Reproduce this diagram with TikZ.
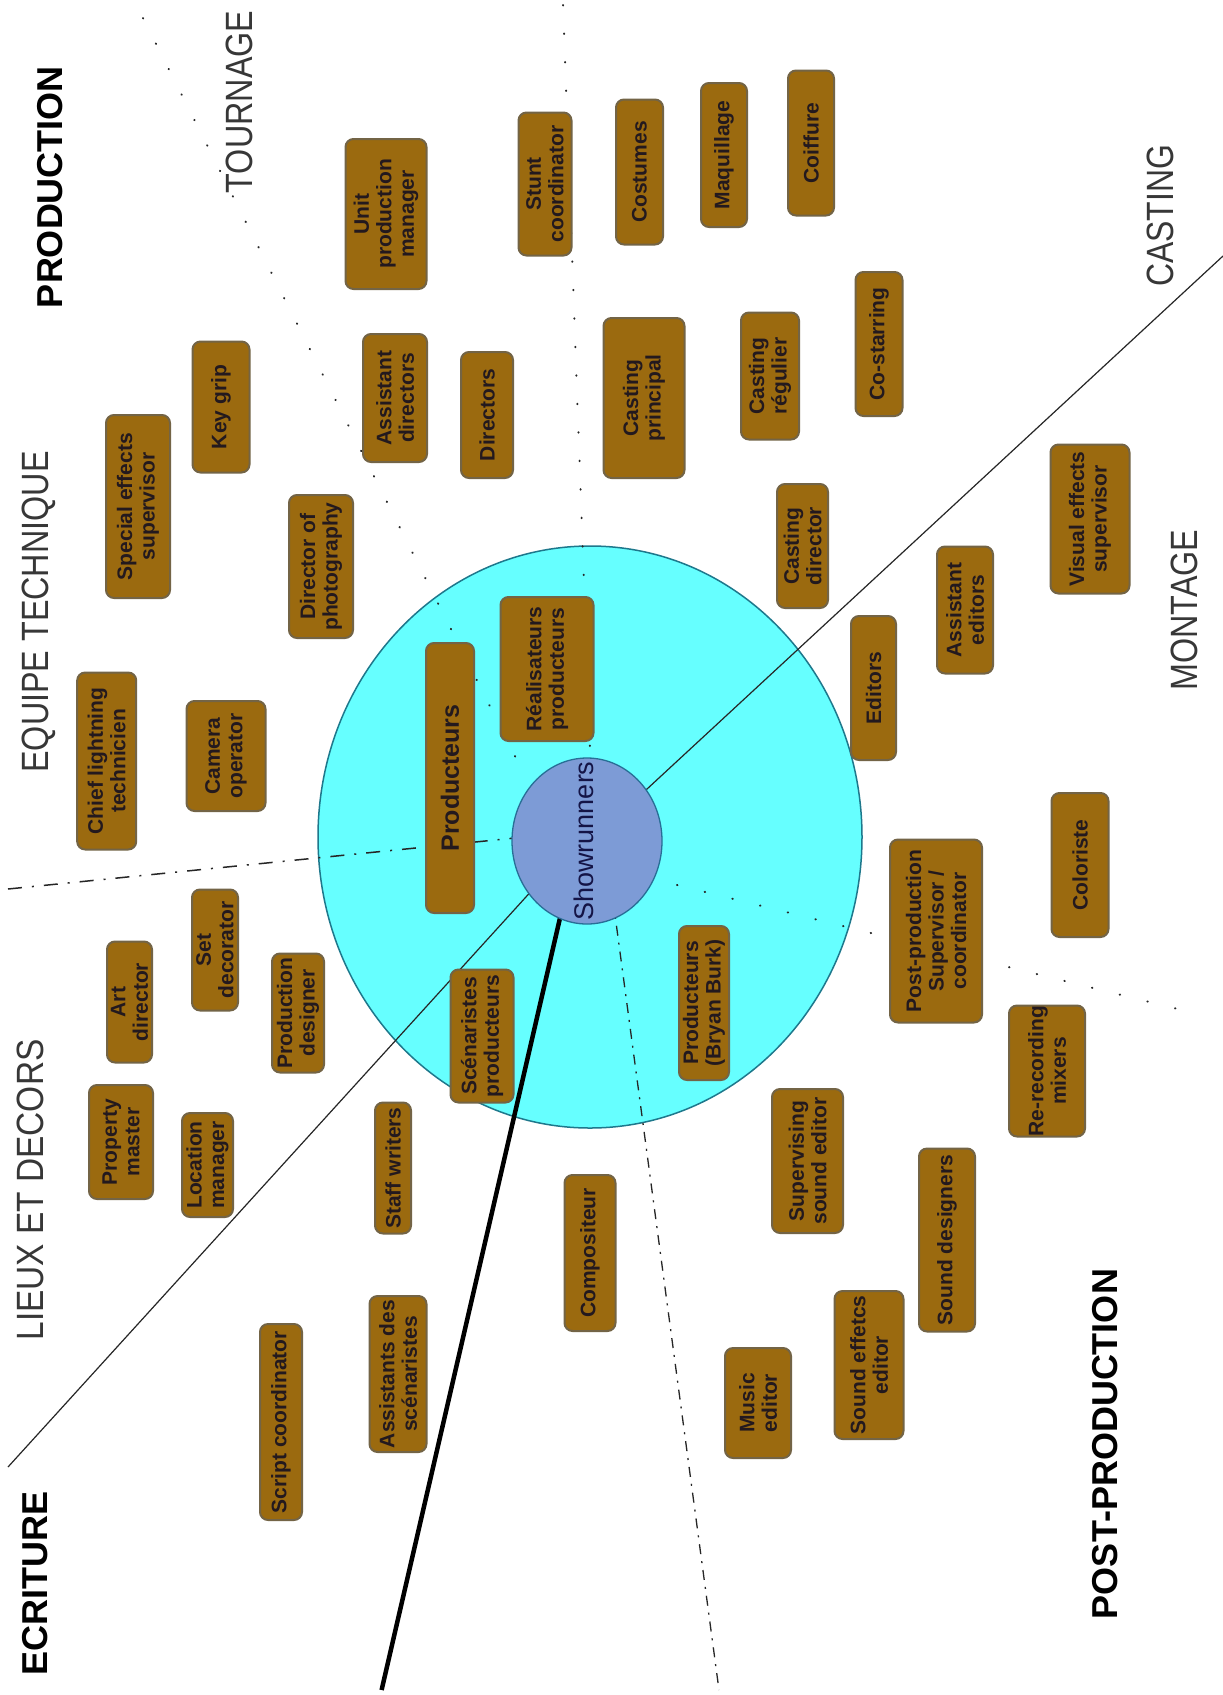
\documentclass[tikz,border=0pt]{standalone}
\usepackage{fontspec}
\usepackage{graphicx}
\setmainfont{Liberation Sans}
\usetikzlibrary{shapes.geometric}
\definecolor{boxfill}{RGB}{155,106,15}
\definecolor{boxborder}{RGB}{115,100,70}
\definecolor{boxtext}{RGB}{35,25,30}
\definecolor{outerfill}{RGB}{102,255,255}
\definecolor{outerborder}{RGB}{30,120,140}
\definecolor{innerfill}{RGB}{125,155,214}
\definecolor{innerborder}{RGB}{40,110,150}
\definecolor{showtext}{RGB}{20,20,70}
\definecolor{lighttext}{RGB}{55,55,55}
\tikzset{
  role/.style={draw=boxborder, line width=2pt, fill=boxfill, rounded corners=8pt,
    rotate=90, inner sep=0pt, align=center, text=boxtext,
    font=\fontsize{21}{22.5}\selectfont\bfseries},
  bighead/.style={rotate=90, inner sep=0pt, text=black,
    font=\fontsize{36}{40}\selectfont\bfseries},
  lighthead/.style={rotate=90, inner sep=0pt, text=lighttext,
    font=\fontsize{38}{40}\selectfont},
  dotline/.style={line width=2pt, line cap=round, dash pattern=on 0.5pt off 28pt, black!85},
  dashdotleft/.style={line width=1.5pt, dash pattern=on 14pt off 10pt on 2pt off 10pt, black!85},
  dashdotlow/.style={line width=1.3pt, dash pattern=on 10pt off 7pt on 2pt off 7pt, black!85},
  thinline/.style={line width=1.2pt, black!85},
  thickline/.style={line width=4.5pt, black},
}
\begin{document}
\begin{tikzpicture}[x=1pt,y=-1pt]
\useasboundingbox (0,0) rectangle (1223,1695);
\fill[white] (0,0) rectangle (1223,1695);

% outer circle
\node (outer) [ellipse, draw=outerborder, line width=1.5pt, fill=outerfill,
  minimum width=544, minimum height=582, inner sep=0pt] at (590,837) {};

% partition lines
\coordinate (d1a) at (143,18);   \coordinate (d1b) at (518,762);
\coordinate (d2a) at (563,5);    \coordinate (d2b) at (590,750);
\coordinate (d3a) at (677,885);  \coordinate (d3b) at (1190,1012);
\coordinate (l1a) at (8,889);    \coordinate (l1b) at (525,837);
\coordinate (l2a) at (613,900);  \coordinate (l2b) at (719,1690);
\coordinate (s1a) at (545,876);  \coordinate (s1b) at (8,1467);
\coordinate (s2a) at (620,814);  \coordinate (s2b) at (1223,256);
\coordinate (t1a) at (563,905);  \coordinate (t1b) at (381.6,1690);

\draw[dotline] (d1a) -- (d1b);
\draw[dotline] (d2a) -- (d2b);
\draw[dotline] (d3a) -- (d3b);
\draw[dashdotleft] (l1a) -- (l1b);
\draw[dashdotlow] (l2a) -- (l2b);
\draw[thinline] (s1a) -- (s1b);
\draw[thinline] (s2a) -- (s2b);
\draw[thickline] (t1a) -- (t1b);

% inner circle
\node (show) [ellipse, draw=innerborder, line width=1.3pt, fill=innerfill, rotate=90,
  minimum width=166, minimum height=150, inner sep=0pt] at (587,841) {};
\node (showlbl) [rotate=90, inner sep=0pt, text=showtext, font=\fontsize{27}{30}\selectfont]
  at (584,841) {Showrunners};

% section headers
\node (hprod) [bighead] at (50,187) {PRODUCTION};
\node (hecri) [bighead] at (35.6,1583) {ECRITURE};
\node (hpost) [bighead] at (1105,1444) {POST-PRODUCTION};
\node (htour) [lighthead] at (239,102) {\scalebox{0.85}[1]{TOURNAGE}};
\node (hcast) [lighthead] at (1160,216) {\scalebox{0.84}[1]{CASTING}};
\node (hequi) [lighthead] at (38.5,612) {\scalebox{0.85}[1]{EQUIPE TECHNIQUE}};
\node (hlieu) [lighthead] at (30.6,1190) {\scalebox{0.88}[1]{LIEUX ET DECORS}};
\node (hmont) [lighthead] at (1184,610) {\scalebox{0.85}[1]{MONTAGE}};

% boxes (minimum width = vertical extent, minimum height = horizontal extent)
\node (upm)  [role, minimum width=150, minimum height=81] at (386,214) {Unit\\production\\manager};
\node (stunt)[role, minimum width=143, minimum height=53] at (545,184) {Stunt\\coordinator};
\node (cost) [role, minimum width=145, minimum height=47] at (639.5,172) {Costumes};
\node (maq)  [role, minimum width=144, minimum height=46] at (724,155) {Maquillage};
\node (coif) [role, minimum width=145, minimum height=46] at (811,143) {Coiffure};
\node (key)  [role, minimum width=131, minimum height=57] at (221,407) {Key grip};
\node (sfx)  [role, minimum width=183, minimum height=64] at (138,506.5) {Special effects\\supervisor};
\node (ad)   [role, minimum width=128, minimum height=64] at (395,398) {Assistant\\directors};
\node (dir)  [role, minimum width=126, minimum height=52] at (487,415) {Directors};
\node (cp)   [role, minimum width=160, minimum height=81] at (644,398) {Casting\\principal};
\node (cr)   [role, minimum width=127, minimum height=58] at (770,376) {Casting\\régulier};
\node (cos)  [role, minimum width=144, minimum height=47] at (879,344) {Co-starring};
\node (dop)  [role, minimum width=143, minimum height=64] at (321,566.5) {Director of\\photography};
\node (vfx)  [role, minimum width=149, minimum height=79] at (1090,519) {Visual effects\\supervisor};
\node (cd)   [role, minimum width=124, minimum height=51] at (802.5,546) {Casting\\director};
\node (clt)  [role, minimum width=177, minimum height=59] at (106.7,761) {Chief lightning\\technicien};
\node (cam)  [role, minimum width=110, minimum height=79] at (226,756) {Camera\\operator};
\node (prod) [role, minimum width=270, minimum height=48, font=\fontsize{25}{27}\selectfont\bfseries] at (450,778) {Producteurs};
\node (rp)   [role, minimum width=144, minimum height=93] at (547,669) {Réalisateurs\\producteurs};
\node (ed)   [role, minimum width=144, minimum height=45] at (873.5,688) {Editors};
\node (aed)  [role, minimum width=127, minimum height=56] at (965,610) {Assistant\\editors};
\node (col)  [role, minimum width=144, minimum height=57] at (1080,865) {Coloriste};
\node (pps)  [role, minimum width=183, minimum height=92] at (936,931) {Post-production\\Supervisor /\\coordinator};
\node (setd) [role, minimum width=121, minimum height=46] at (215,950) {Set\\decorator};
\node (artd) [role, minimum width=121, minimum height=45] at (129.5,1002) {Art\\director};
\node (pd)   [role, minimum width=119, minimum height=52] at (298,1013) {Production\\designer};
\node (sp)   [role, minimum width=133, minimum height=63] at (482,1036) {Scénaristes\\producteurs};
\node (pbb)  [role, minimum width=154, minimum height=50] at (704,1003) {Producteurs\\(Bryan Burk)};
\node (rrm)  [role, minimum width=131, minimum height=76] at (1047,1071) {Re-recording\\mixers};
\node (pm)   [role, minimum width=114, minimum height=64] at (121,1142) {Property\\master};
\node (lm)   [role, minimum width=104, minimum height=51] at (207.5,1165) {Location\\manager};
\node (sw)   [role, minimum width=131, minimum height=36] at (393,1168) {Staff writers};
\node (sse)  [role, minimum width=144, minimum height=71] at (807.5,1161) {Supervising\\sound editor};
\node (comp) [role, minimum width=156, minimum height=51] at (590,1253) {Compositeur};
\node (sd)   [role, minimum width=183, minimum height=56] at (947,1240) {Sound designers};
\node (sc)   [role, minimum width=196, minimum height=42] at (281,1422) {Script coordinator};
\node (ads)  [role, minimum width=156, minimum height=57] at (398,1374) {Assistants des\\scénaristes};
\node (sfe)  [role, minimum width=148, minimum height=69] at (869,1365) {Sound effetcs\\editor};
\node (me)   [role, minimum width=110, minimum height=66] at (758,1403) {Music\\editor};
\end{tikzpicture}
\end{document}
